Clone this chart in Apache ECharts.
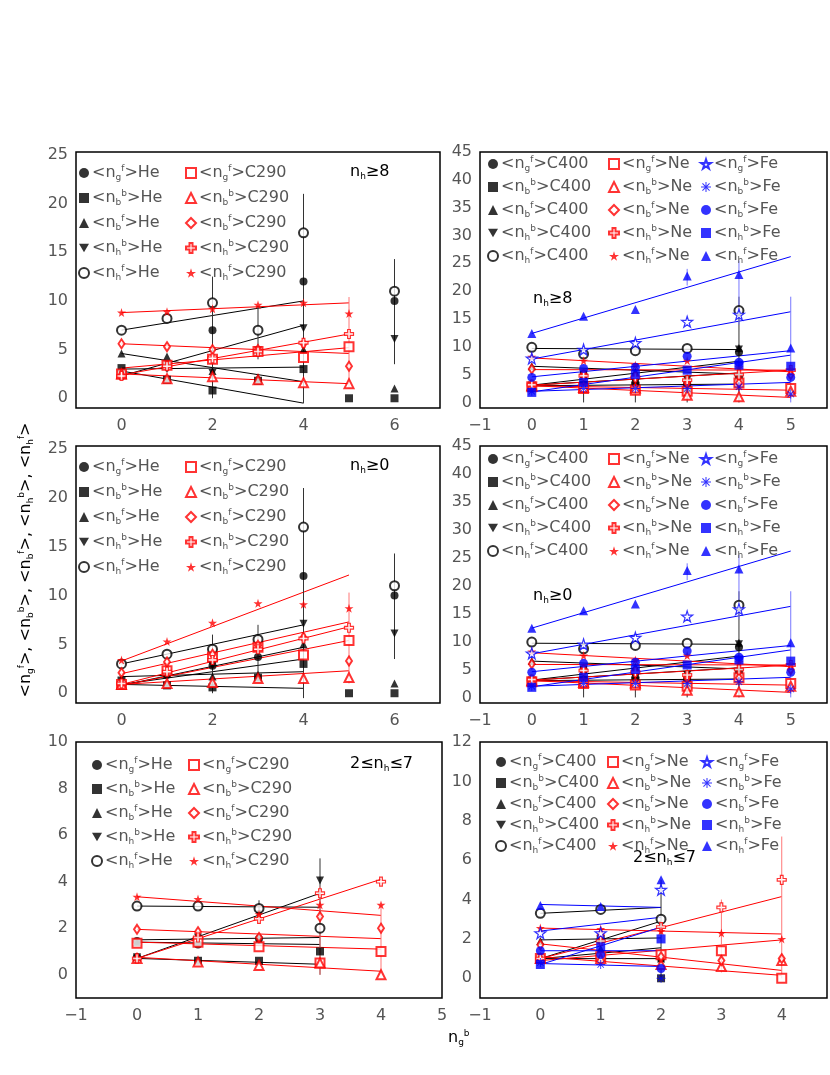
<!DOCTYPE html>
<html><head><meta charset="utf-8">
<script src="https://cdn.jsdelivr.net/npm/echarts@6/dist/echarts.min.js"></script>
<style>html,body{margin:0;padding:0;background:#fff}#c{width:830px;height:1075px}</style>
</head><body><div id="c"></div>
<script>
// ---------- DATA ----------
const quantities = ['ngf','nbb','nbf','nhb','nhf'];
const panelLabels = ['n_h≥8','n_h≥8','n_h≥0','n_h≥0','2≤n_h≤7','2≤n_h≤7'];
// Panel A (top-left, nh>=8)
const A_He_ngf=[[0,2.3],[1,3.5],[2,7.0],[3,4.8],[4,12.0],[6,10.0]];
const A_He_nbb=[[0,3.1],[1,1.9],[2,0.8],[3,1.8],[4,3.0],[5,0],[6,0]];
const A_He_nbf=[[0,4.6],[1,4.3],[2,2.8],[3,2.1],[4,5.0],[6,1.0]];
const A_He_nhb=[[0,2.4],[1,3.0],[2,2.6],[3,4.9],[4,7.2],[6,6.1]];
const A_He_nhf=[[0,7.0],[1,8.2],[2,9.8],[3,7.0],[4,17.0],[6,11.0]];
const A_C290_ngf=[[0,2.5],[1,3.4],[2,4.0],[3,4.8],[4,4.2],[5,5.3]];
const A_C290_nbb=[[0,2.5],[1,2.0],[2,2.2],[3,1.9],[4,1.6],[5,1.5]];
const A_C290_nbf=[[0,5.6],[1,5.3],[2,5.0],[3,5.0],[4,5.6],[5,3.3]];
const A_C290_nhb=[[0,2.3],[1,3.3],[2,4.1],[3,4.8],[4,5.7],[5,6.6]];
const A_C290_nhf=[[0,8.8],[1,8.9],[2,9.2],[3,9.6],[4,9.8],[5,8.7]];
const A_He_fit={ngf:[3.0,3.2],nbb:[2.8,-0.5],nbf:[4.6,1.7],nhb:[2.3,7.5],nhf:[7.0,10.0]};
const A_C290_fit={ngf:[3.1,5.2],nbb:[2.5,1.5],nbf:[5.6,4.6],nhb:[2.4,6.6],nhf:[8.8,9.8]};
const A_err=[[2,0,12.5],[3,4,9.5],[4,-0.5,21],[6,3.5,14.3]];
const A_errR=[[5,1,10.4]];
// Panel C (middle-left, nh>=0)
const C_He_ngf=[[0,1.0],[1,1.9],[2,2.8],[3,3.7],[4,12.0],[6,10.0]];
const C_He_nbb=[[0,1.3],[1,0.8],[2,0.6],[3,1.6],[4,3.0],[5,0],[6,0]];
const C_He_nbf=[[0,1.5],[1,2.0],[2,1.7],[3,1.9],[4,5.0],[6,1.0]];
const C_He_nhb=[[0,0.9],[1,1.8],[2,2.8],[3,4.6],[4,7.1],[6,6.1]];
const C_He_nhf=[[0,3.0],[1,4.0],[2,4.5],[3,5.5],[4,17.0],[6,11.0]];
const C_C290_ngf=[[0,0.9],[1,2.3],[2,3.7],[3,4.7],[4,3.9],[5,5.4]];
const C_C290_nbb=[[0,0.9],[1,1.0],[2,1.1],[3,1.5],[4,1.5],[5,1.6]];
const C_C290_nbf=[[0,2.1],[1,3.2],[2,4.0],[3,4.9],[4,5.7],[5,3.3]];
const C_C290_nhb=[[0,1.0],[1,2.2],[2,3.4],[3,4.5],[4,5.6],[5,6.7]];
const C_C290_nhf=[[0,3.4],[1,5.3],[2,7.2],[3,9.2],[4,9.1],[5,8.7]];
const C_He_fit={ngf:[0.9,3.5],nbb:[0.9,0.5],nbf:[1.7,2.2],nhb:[0.8,4.7],nhf:[3.0,7.0]};
const C_C290_fit={ngf:[0.8,5.4],nbb:[0.9,2.3],nbf:[2.0,7.3],nhb:[0.9,6.8],nhf:[3.3,12.1]};
const C_err=[[2,0,6],[3,2,7],[4,-0.5,21],[6,3.5,14.3]];
const C_errR=[[5,1,10.3]];
// Panel B (top-right, nh>=8) and D (middle-right, nh>=0)
const B_C400_ngf=[[0,3.0],[1,5.0],[2,3.5],[3,3.5],[4,9.0]];
const B_C400_nbb=[[0,3.0],[1,3.2],[2,3.0],[3,2.5],[4,4.5]];
const B_C400_nbf=[[0,6.5],[1,5.0],[2,5.5],[3,4.0],[4,9.8]];
const B_C400_nhb=[[0,3.0],[1,5.0],[2,3.5],[3,4.0],[4,9.5]];
const B_C400_nhf=[[0,9.9],[1,8.7],[2,9.3],[3,9.7],[4,16.5]];
const B_Ne_ngf=[[0,2.8],[1,2.5],[2,2.2],[3,2.0],[4,3.5],[5,2.5]];
const B_Ne_nbb=[[0,3.0],[1,2.7],[2,2.6],[3,1.3],[4,1.0],[5,2.0]];
const B_Ne_nbf=[[0,6.0],[1,5.0],[2,4.5],[3,3.5],[4,3.5],[5,5.0]];
const B_Ne_nhb=[[0,3.2],[1,4.8],[2,4.5],[3,4.0],[4,5.0],[5,5.8]];
const B_Ne_nhf=[[0,8.2],[1,7.5],[2,6.7],[3,7.5],[4,6.3],[5,5.8]];
const B_Fe_ngf=[[0,7.9],[1,9.5],[2,10.7],[3,14.5],[4,15.8]];
const B_Fe_nbb=[[0,2.0],[1,2.5],[2,2.5],[3,2.5],[4,2.8],[5,1.5]];
const B_Fe_nbf=[[0,4.5],[1,6.1],[2,6.3],[3,8.3],[4,7.2],[5,4.5]];
const B_Fe_nhb=[[0,1.8],[1,3.6],[2,5.0],[3,5.8],[4,6.7],[5,6.5]];
const B_Fe_nhf=[[0,12.4],[1,15.5],[2,16.7],[3,22.7],[4,23.0],[5,9.8]];
const B_C400_fit={ngf:[3.1,7.4],nbb:[3.0,3.3],nbf:[6.5,5.1],nhb:[3.1,5.3],nhf:[9.7,9.5]};
const B_Ne_fit={ngf:[3.0,2.2],nbb:[3.0,0.9],nbf:[5.9,5.8],nhb:[3.1,5.8],nhf:[8.0,5.5]};
const B_Fe_fit={ngf:[7.8,16.3],nbb:[2.0,3.6],nbf:[4.6,9.3],nhb:[1.9,8.5],nhf:[12.4,26.2]};
const B_err=[[4,0,19],[1,0,5],[2,0,5],[3,0,5]];
const B_errB=[[5,0,19],[3,21,24],[4,14,25.5]];
// Panel E (bottom-left, 2<=nh<=7)
const E_He_ngf=[[0,1.45],[1,1.3],[2,1.55]];
const E_He_nbb=[[0,0.7],[1,0.6],[2,0.6],[3,1.0]];
const E_He_nbf=[[0,1.4],[1,1.7],[2,1.5]];
const E_He_nhb=[[0,0.75],[1,1.6],[2,2.6],[3,4.05]];
const E_He_nhf=[[0,2.95],[1,2.95],[2,2.85],[3,2.0]];
const E_C290_ngf=[[0,1.35],[1,1.4],[2,1.2],[3,0.5],[4,1.0]];
const E_C290_nbb=[[0,0.7],[1,0.55],[2,0.4],[3,0.5],[4,0]];
const E_C290_nbf=[[0,1.95],[1,1.85],[2,1.6],[3,2.5],[4,2.0]];
const E_C290_nhb=[[0,0.7],[1,1.6],[2,2.4],[3,3.5],[4,4.0]];
const E_C290_nhf=[[0,3.35],[1,3.25],[2,2.6],[3,3.0],[4,3.0]];
const E_He_fit={ngf:[1.5,1.6],nbb:[0.7,0.45],nbf:[1.4,1.3],nhb:[0.7,3.5],nhf:[2.95,2.9]};
const E_C290_fit={ngf:[1.4,1.1],nbb:[0.75,0.15],nbf:[1.95,1.55],nhb:[0.7,4.1],nhf:[3.35,2.55]};
const E_err=[[3,0,5],[2,2.6,3.2]];
const E_errR=[[4,0,3],[3,0,3.8]];
// Panel F (bottom-right, 2<=nh<=7)
const F_C400_ngf=[[0,1.0],[1,1.0],[2,1.0]];
const F_C400_nbb=[[0,1.0],[1,2.0],[2,0]];
const F_C400_nbf=[[0,1.9],[1,1.5],[2,1.0]];
const F_C400_nhb=[[0,1.0],[1,1.0],[2,1.0]];
const F_C400_nhf=[[0,3.3],[1,3.5],[2,3.0]];
const F_Ne_ngf=[[0,1.0],[1,1.1],[2,1.2],[3,1.4],[4,0]];
const F_Ne_nbb=[[0,1.0],[1,1.0],[2,0.7],[3,0.6],[4,0.9]];
const F_Ne_nbf=[[0,1.7],[1,2.2],[2,1.1],[3,0.9],[4,1.0]];
const F_Ne_nhb=[[0,1.0],[1,1.9],[2,2.6],[3,3.6],[4,5.0]];
const F_Ne_nhf=[[0,2.55],[1,2.5],[2,2.4],[3,2.3],[4,2.0]];
const F_Fe_ngf=[[0,2.3],[1,2.3],[2,4.5]];
const F_Fe_nbb=[[0,0.8],[1,0.7],[2,0]];
const F_Fe_nbf=[[0,1.4],[1,1.2],[2,0.5]];
const F_Fe_nhb=[[0,0.7],[1,1.6],[2,2.0]];
const F_Fe_nhf=[[0,3.7],[1,3.65],[2,5.0]];
const F_C400_fit={ngf:[1.0,1.55],nbb:[1.0,1.0],nbf:[1.95,2.05],nhb:[1.0,2.9],nhf:[3.3,3.6]};
const F_Ne_fit={ngf:[0.9,1.95],nbb:[1.1,0.15],nbf:[1.75,0.4],nhb:[1.0,4.15],nhf:[2.55,2.25]};
const F_Fe_fit={ngf:[2.4,3.1],nbb:[0.75,0.6],nbf:[1.4,1.4],nhb:[0.7,2.6],nhf:[3.75,3.6]};
const F_err=[[2,0,5]];
const F_errR=[[4,0,7.2],[3,0.3,4]];

// ---------- STYLES ----------
const BLACK='#000', RED='#ff0000', BLUE='#0000ff';
const STAR='path://M50,0 L61,35 L98,35 L68,57 L79,91 L50,70 L21,91 L32,57 L2,35 L39,35 Z';
const CROSS='path://M35,0 H65 V35 H100 V65 H65 V100 H35 V65 H0 V35 H35 Z';
const ASTER='path://M45,0H55V38L82,11L89,18L62,45H100V55H62L89,82L82,89L55,62V100H45V62L18,89L11,82L38,55H0V45H38L11,18L18,11L45,38Z';
const DOWNTRI='path://M0,0 L100,0 L50,87 Z';
const styleSets={
  black:{color:BLACK,ngf:{s:'circle',z:8},nbb:{s:'rect',z:8},nbf:{s:'triangle',z:8},nhb:{s:DOWNTRI,z:8},nhf:{s:'emptyCircle',z:9}},
  red:{color:RED,ngf:{s:'emptyRect',z:9},nbb:{s:'emptyTriangle',z:9},nbf:{s:'emptyDiamond',z:[6,9]},nhb:{s:CROSS,z:9,open:true},nhf:{s:STAR,z:9}},
  blue:{color:BLUE,ngf:{s:STAR,z:11,open:true},nbb:{s:ASTER,z:9},nbf:{s:'circle',z:9},nhb:{s:'rect',z:9},nhf:{s:'triangle',z:9}}
};
const subsup={ngf:['g','f'],nbb:['b','b'],nbf:['b','f'],nhb:['h','b'],nhf:['h','f']};

const panels=[
 {id:'A',grid:{left:76,top:152,width:364,height:256},x:[-1,7],y:[-1,25.3],xStep:2,yStep:5,xHideNeg:true,
  groups:[['He','black',{ngf:A_He_ngf,nbb:A_He_nbb,nbf:A_He_nbf,nhb:A_He_nhb,nhf:A_He_nhf},A_He_fit,[0,4]],
          ['C290','red',{ngf:A_C290_ngf,nbb:A_C290_nbb,nbf:A_C290_nbf,nhb:A_C290_nhb,nhf:A_C290_nhf},A_C290_fit,[0,5]]],
  err:[[A_err,'#333'],[A_errR,'#f77']],legendCols:[83,190],legendTop:163,gap:6,label:[350,172]},
 {id:'B',grid:{left:480,top:152,width:352,height:256},x:[-1,5.7],y:[-1,45],xStep:1,yStep:5,
  groups:[['C400','black',{ngf:B_C400_ngf,nbb:B_C400_nbb,nbf:B_C400_nbf,nhb:B_C400_nhb,nhf:B_C400_nhf},B_C400_fit,[0,4]],
          ['Ne','red',{ngf:B_Ne_ngf,nbb:B_Ne_nbb,nbf:B_Ne_nbf,nhb:B_Ne_nhb,nhf:B_Ne_nhf},B_Ne_fit,[0,5]],
          ['Fe','blue',{ngf:B_Fe_ngf,nbb:B_Fe_nbb,nbf:B_Fe_nbf,nhb:B_Fe_nhb,nhf:B_Fe_nhf},B_Fe_fit,[0,5]]],
  err:[[B_err,'#333'],[B_errB,'#77f']],legendCols:[492,613,705],legendTop:154,gap:4,label:[533,299]},
 {id:'C',grid:{left:76,top:446,width:364,height:257},x:[-1,7],y:[-1,25.3],xStep:2,yStep:5,xHideNeg:true,
  groups:[['He','black',{ngf:C_He_ngf,nbb:C_He_nbb,nbf:C_He_nbf,nhb:C_He_nhb,nhf:C_He_nhf},C_He_fit,[0,4]],
          ['C290','red',{ngf:C_C290_ngf,nbb:C_C290_nbb,nbf:C_C290_nbf,nhb:C_C290_nhb,nhf:C_C290_nhf},C_C290_fit,[0,5]]],
  err:[[C_err,'#333'],[C_errR,'#f77']],legendCols:[83,190],legendTop:457,gap:6,label:[350,466]},
 {id:'D',grid:{left:480,top:446,width:352,height:257},x:[-1,5.7],y:[-1,45],xStep:1,yStep:5,
  groups:[['C400','black',{ngf:B_C400_ngf,nbb:B_C400_nbb,nbf:B_C400_nbf,nhb:B_C400_nhb,nhf:B_C400_nhf},B_C400_fit,[0,4]],
          ['Ne','red',{ngf:B_Ne_ngf,nbb:B_Ne_nbb,nbf:B_Ne_nbf,nhb:B_Ne_nhb,nhf:B_Ne_nhf},B_Ne_fit,[0,5]],
          ['Fe','blue',{ngf:B_Fe_ngf,nbb:B_Fe_nbb,nbf:B_Fe_nbf,nhb:B_Fe_nhb,nhf:B_Fe_nhf},B_Fe_fit,[0,5]]],
  err:[[B_err,'#333'],[B_errB,'#77f']],legendCols:[492,613,705],legendTop:449,gap:4,label:[533,596]},
 {id:'E',grid:{left:76,top:742,width:366,height:256},x:[-1,5],y:[-1,10],xStep:1,yStep:2,
  groups:[['He','black',{ngf:E_He_ngf,nbb:E_He_nbb,nbf:E_He_nbf,nhb:E_He_nhb,nhf:E_He_nhf},E_He_fit,[0,3]],
          ['C290','red',{ngf:E_C290_ngf,nbb:E_C290_nbb,nbf:E_C290_nbf,nhb:E_C290_nhb,nhf:E_C290_nhf},E_C290_fit,[0,4]]],
  err:[[E_err,'#333'],[E_errR,'#f77']],legendCols:[96,193],legendTop:755,gap:5,label:[350,764]},
 {id:'F',grid:{left:480,top:742,width:352,height:256},x:[-1,4.75],y:[-1,12],xStep:1,yStep:2,
  groups:[['C400','black',{ngf:F_C400_ngf,nbb:F_C400_nbb,nbf:F_C400_nbf,nhb:F_C400_nhb,nhf:F_C400_nhf},F_C400_fit,[0,2]],
          ['Ne','red',{ngf:F_Ne_ngf,nbb:F_Ne_nbb,nbf:F_Ne_nbf,nhb:F_Ne_nhb,nhf:F_Ne_nhf},F_Ne_fit,[0,4]],
          ['Fe','blue',{ngf:F_Fe_ngf,nbb:F_Fe_nbb,nbf:F_Fe_nbf,nhb:F_Fe_nhb,nhf:F_Fe_nhf},F_Fe_fit,[0,2]]],
  err:[[F_err,'#333'],[F_errR,'#f77']],legendCols:[500,612,706],legendTop:752,gap:2,label:[633,858]}
];

const rich={
  a:{fontSize:16,color:'#555',fontFamily:'DejaVu Sans',lineHeight:18},
  s:{fontSize:9,color:'#555',fontFamily:'DejaVu Sans',verticalAlign:'bottom',lineHeight:18,padding:[10,0,0,0]},
  p:{fontSize:9,color:'#555',fontFamily:'DejaVu Sans',verticalAlign:'top',lineHeight:18,padding:[0,0,8,0]}
};
function qText(q,target){const [s,p]=subsup[q];return '{a|<n}{s|'+s+'}{p|'+p+'}{a|>'+target+'}';}
function labelText(t){const m=t.split('n_h');return '{a|'+m[0]+'n}{s|h}{a|'+m[1]+'}';}
const fmtNum=v=>String(v).replace('-','−');

const option={animation:false,backgroundColor:'#fff',grid:[],xAxis:[],yAxis:[],series:[],legend:[],graphic:[]};
panels.forEach((P,gi)=>{
  option.grid.push(Object.assign({show:true,borderColor:'#000',borderWidth:1.5,backgroundColor:'transparent'},P.grid));
  option.xAxis.push({type:'value',gridIndex:gi,min:P.x[0],max:P.x[1],interval:1,
    axisLine:{show:false},axisTick:{show:false},splitLine:{show:false},showMaxLabel:Number.isInteger(P.x[1]),
    axisLabel:{color:'#555',fontSize:16,fontFamily:'DejaVu Sans',margin:10,
      formatter:v=>(Math.abs(v%P.xStep)<1e-9 && !(P.xHideNeg&&v<0))?fmtNum(v):''}});
  option.yAxis.push({type:'value',gridIndex:gi,min:P.y[0],max:P.y[1],interval:1,
    axisLine:{show:false},axisTick:{show:false},splitLine:{show:false},showMinLabel:false,
    axisLabel:{color:'#555',fontSize:16,fontFamily:'DejaVu Sans',margin:8,
      formatter:v=>(Math.abs(v%P.yStep)<1e-9 && v>=0)?fmtNum(v):''}});
  P.groups.forEach(([target,setName,dataMap,fit,fr],ci)=>{
    const st=styleSets[setName];const names=[];
    quantities.forEach(q=>{
      const sy=st[q];const name=P.id+'|'+target+'|'+q;names.push(name);
      option.series.push({type:'line',xAxisIndex:gi,yAxisIndex:gi,symbol:'none',silent:true,
        data:[[fr[0],fit[q][0]],[fr[1],fit[q][1]]],lineStyle:{color:st.color,width:1},z:2});
      option.series.push({type:'scatter',name,xAxisIndex:gi,yAxisIndex:gi,data:dataMap[q],
        symbol:sy.s,symbolSize:sy.z,z:4,
        itemStyle:sy.open?{color:'#fff',borderColor:st.color,borderWidth:1.2}:{color:st.color}});
    });
    option.legend.push({orient:'vertical',left:P.legendCols[ci]-5,top:P.legendTop,itemWidth:10,itemHeight:10,
      itemGap:P.gap,selectedMode:false,data:names,padding:0,
      formatter:n=>{const [,t,q]=n.split('|');return qText(q,t);},textStyle:{rich,padding:[0,0,0,-2]}});
  });
  P.err.forEach(([arr,col])=>{
    option.series.push({type:'custom',xAxisIndex:gi,yAxisIndex:gi,data:arr,silent:true,z:3,
      encode:{x:0,y:[1,2]},
      renderItem:(params,api)=>{const a=api.coord([api.value(0),api.value(1)]);const b=api.coord([api.value(0),api.value(2)]);
        return {type:'line',shape:{x1:a[0],y1:a[1],x2:b[0],y2:b[1]},style:{stroke:col,lineWidth:1}};}});
  });
  option.graphic.push({type:'text',left:P.label[0],top:P.label[1]-10,style:{text:labelText(panelLabels[gi]),rich}});
});
option.graphic.push({type:'text',x:26,y:560,rotation:Math.PI/2,
  style:{text:'{a|<n}{s|g}{p|f}{a|>, <n}{s|b}{p|b}{a|>, <n}{s|b}{p|f}{a|>, <n}{s|h}{p|b}{a|>, <n}{s|h}{p|f}{a|>}',
  rich,align:'center',verticalAlign:'middle'}});
option.graphic.push({type:'text',left:448,top:1028,style:{text:'{a|n}{s|g}{p|b}',rich}});
const chart=echarts.init(document.getElementById('c'),null,{renderer:'canvas'});
chart.setOption(option);
</script></body></html>
